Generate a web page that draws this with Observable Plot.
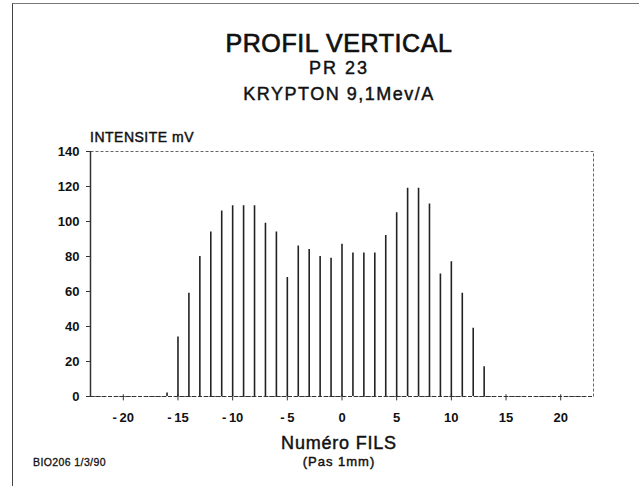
<!DOCTYPE html>
<html>
<head>
<meta charset="utf-8">
<script src="https://cdn.jsdelivr.net/npm/d3@7"></script>
<script src="https://cdn.jsdelivr.net/npm/@observablehq/plot@0.6"></script>
<style>
  html, body { margin: 0; padding: 0; background: #fff; }
  #page { position: relative; width: 639px; height: 486px; overflow: hidden; font-family: "Liberation Sans", Arial, sans-serif; color: #111; }
  #page svg { position: absolute; left: 0; top: 0; }
  .t { position: absolute; white-space: nowrap; line-height: 1; -webkit-text-stroke: 0.45px #111; }
  .border { position: absolute; left: 12px; top: 3px; right: -5px; bottom: -5px; border-left: 1.5px solid #444; border-top: 1px solid #777; }
</style>
</head>
<body>
<div id="page">
  <div class="border"></div>
</div>
<script>
const fils = [-16,-15,-14,-13,-12,-11,-10,-9,-8,-7,-6,-5,-4,-3,-2,-1,0,1,2,3,4,5,6,7,8,9,10,11,12,13];
const intensite = [2,34,59,80,94,106,109,109,109,99,94,68,86,84,80,79,87,82,82,82,92,105,119,119,110,70,77,59,39,17];
const xTicks = [-20,-15,-10,-5,0,5,10,15,20];
const yTicks = [0,20,40,60,80,100,120,140];
const title = "PROFIL VERTICAL";
const subtitle1 = "PR 23";
const subtitle2 = "KRYPTON 9,1Mev/A";
const yLabel = "INTENSITE mV";
const xLabel = "Numéro FILS";
const xLabel2 = "(Pas 1mm)";
const caption = "BIO206 1/3/90";

const data = fils.map((f, i) => ({fil: f, val: intensite[i]}));

const chart = Plot.plot({
  width: 639,
  height: 486,
  marginLeft: 90,
  marginRight: 46,
  marginTop: 151,
  marginBottom: 90,
  style: {fontFamily: "Liberation Sans, Arial, sans-serif", background: "transparent", color: "#111"},
  x: {domain: [-23, 23], label: null},
  y: {domain: [0, 140], label: null},
  marks: [
    Plot.frame({stroke: "#666", strokeDasharray: "3,2", strokeWidth: 1}),
    Plot.ruleY([0], {stroke: "#333", strokeDasharray: "4,2", strokeWidth: 1.2}),
    Plot.ruleX([-23], {stroke: "#333", strokeWidth: 1.5}),
    Plot.ruleX(xTicks, {x: d => d, y1: -2.5, y2: 1, stroke: "#333", strokeWidth: 1}),
    Plot.ruleX(data, {x: "fil", y1: 0, y2: "val", stroke: "#222", strokeWidth: 1.6}),
    Plot.axisY({ticks: yTicks, tickSize: 4, tickPadding: 7, fontSize: 13, fontWeight: "bold", label: null, stroke: "#333", style: {letterSpacing: "0.8px"}}),
    Plot.axisX({ticks: xTicks, tickSize: 0, tickPadding: 16, fontSize: 13, fontWeight: "bold", label: null, tickFormat: d => (d < 0 ? "-\u2009" + Math.abs(d) : String(d))})
  ]
});

const page = document.getElementById("page");
page.appendChild(chart);

function addText(txt, x, y, size, opts = {}) {
  const d = document.createElement("div");
  d.className = "t";
  d.textContent = txt;
  d.style.fontSize = size + "px";
  d.style.left = x + "px";
  d.style.top = y + "px";
  if (opts.center) d.style.transform = "translateX(-50%)";
  if (opts.weight) d.style.fontWeight = opts.weight;
  if (opts.ls) d.style.letterSpacing = opts.ls + "px";
  if (opts.stroke !== undefined) d.style.webkitTextStroke = opts.stroke + "px #111";
  page.appendChild(d);
}
addText(title, 339, 31, 25, {center: true, ls: 0.6, stroke: 0.7});
addText(subtitle1, 339, 59, 18, {center: true, ls: 2});
addText(subtitle2, 339, 85, 18, {center: true, ls: 1.5});
addText(yLabel, 90, 130, 14, {ls: 0.5});
addText(xLabel, 339, 434, 18, {center: true, ls: 0.8});
addText(xLabel2, 339, 455, 13, {center: true, ls: 1});
addText(caption, 33, 457, 10.5, {ls: 0.4, stroke: 0.3});
</script>
</body>
</html>
